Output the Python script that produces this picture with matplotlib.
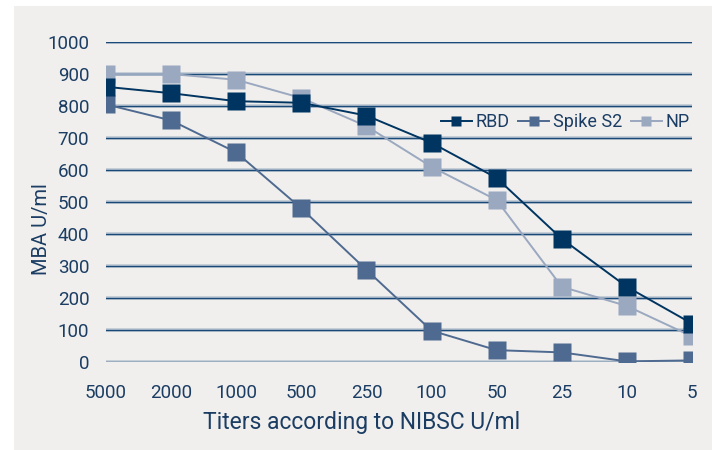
import matplotlib.pyplot as plt
import matplotlib.patheffects as pe
import numpy as np

# titer dilutions on the x axis (categorical)
titers = ["5000", "2000", "1000", "500", "250", "100", "50", "25", "10", "5"]

# MBA readings per antigen
rbd = [860, 840, 815, 810, 770, 685, 575, 385, 235, 120]
spike_s2 = [805, 755, 655, 480, 288, 98, 37, 30, 2, 5]
np_vals = [900, 900, 882, 825, 737, 610, 506, 235, 175, 80]

yticks = [0, 100, 200, 300, 400, 500, 600, 700, 800, 900, 1000]

navy = "#1b3d63"
bg = "#f0efed"

plt.rcParams["font.family"] = ["Roboto", "DejaVu Sans"]

fig = plt.figure(figsize=(7.17, 4.5), dpi=100)
fig.patch.set_facecolor("white")

# grey panel behind the chart
bgax = fig.add_axes([14 / 717, 0, (712 - 14) / 717, 1 - 6 / 450], zorder=-1)
bgax.set_facecolor(bg)
bgax.set_xticks([])
bgax.set_yticks([])
for s in bgax.spines.values():
    s.set_visible(False)

ax = fig.add_axes([106 / 717, 1 - 362 / 450, (692 - 106) / 717, (362 - 42) / 450])
ax.set_facecolor("none")

x = np.arange(len(titers))

# horizontal gridlines: dark core with a light halo
for v in yticks:
    ax.axhline(v, color="#1a4a78", lw=1.0, zorder=1,
               path_effects=[pe.Stroke(linewidth=2.6, foreground="#bcc7d2"), pe.Normal()])

ax.plot(x, np_vals, color="#9aa8c0", lw=1.4, marker="s", ms=13, mec="none", label="NP", zorder=3)
ax.plot(x, spike_s2, color="#4f6a90", lw=1.4, marker="s", ms=13, mec="none", label="Spike S2", zorder=4)
ax.plot(x, rbd, color="#003461", lw=1.4, marker="s", ms=13, mec="none", label="RBD", zorder=5)

ax.set_xlim(0, len(titers) - 1)
ax.set_ylim(0, 1000)
ax.set_yticks(yticks)
ax.set_xticks(x)
ax.set_xticklabels(titers)
ax.tick_params(axis="both", length=0, labelsize=13.5, colors=navy)
ax.tick_params(axis="y", pad=12)
ax.tick_params(axis="x", pad=16)
for s in ax.spines.values():
    s.set_visible(False)

# axis titles sit off-centre relative to the plot area
fig.text(362 / 717, 1 - 422 / 450, "Titers according to NIBSC U/ml", fontsize=16.5,
         color=navy, ha="center", va="center")
fig.text(41 / 717, 1 - 229 / 450, "MBA U/ml", fontsize=14.5, color=navy,
         rotation=90, ha="center", va="center")

handles, labels = ax.get_legend_handles_labels()
leg = ax.legend(handles[::-1], labels[::-1], loc="center right", bbox_to_anchor=(1.008, 0.75),
                ncol=3, frameon=False, fontsize=13, markerscale=0.55,
                handlelength=1.7, handletextpad=0.2, columnspacing=0.5, borderpad=0.2,
                borderaxespad=0.2)
for t in leg.get_texts():
    t.set_color(navy)

fig.savefig("out.png", dpi=100, facecolor=fig.get_facecolor())
